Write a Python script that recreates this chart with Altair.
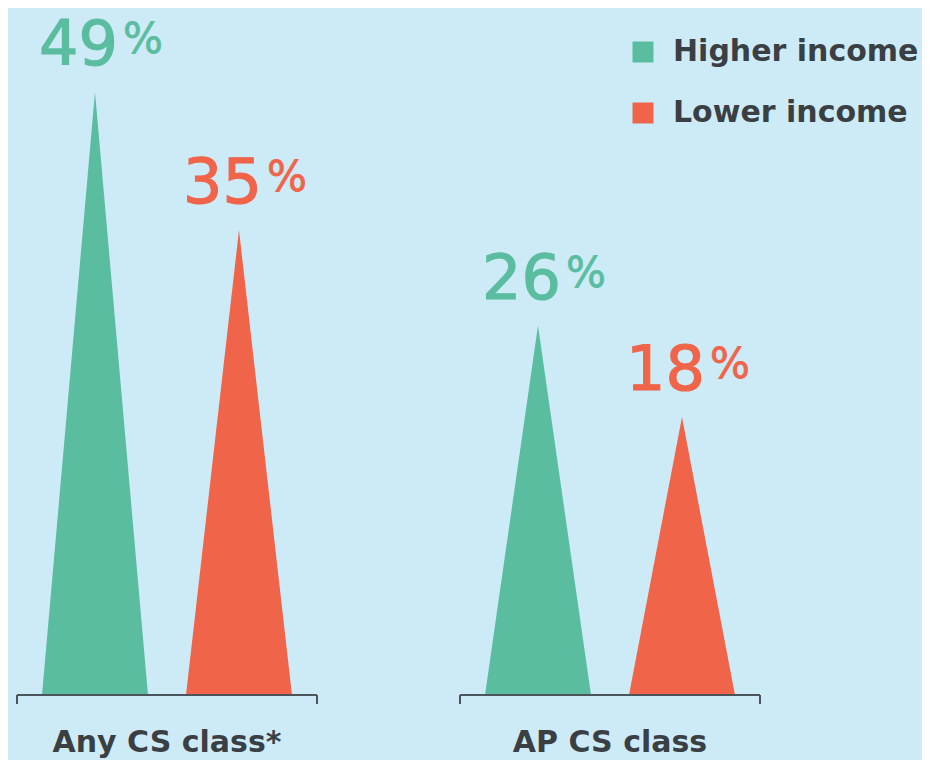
import altair as alt
import pandas as pd

# ---- data ----
groups = ["Any CS class*", "AP CS class"]
series = ["Higher income", "Lower income"]
higher = [49, 26]
lower = [35, 18]
values = [higher, lower]

# ---- layout / style constants ----
BG = "#cdebf7"
GREEN = "#5bbda0"
RED = "#f0644a"
TEXT = "#3a3f44"
AXIS = "#4d555c"
FONT = "DejaVu Sans"

TOTAL_W, TOTAL_H = 914, 752
W, H = TOTAL_W, 687
X0 = 87            # first bar centre (chart px units)
GROUP_STEP = 443
BAR_STEP = 144
HALF = 53
AXIS_HALF = 150

tri_rows, lab_rows, axis_rows, tick_rows, grp_rows = [], [], [], [], []
for g, grp in enumerate(groups):
    mid = X0 + g * GROUP_STEP + BAR_STEP / 2
    axis_rows.append({"group": grp, "x": mid - AXIS_HALF, "x2": mid + AXIS_HALF, "y": 0})
    tick_rows += [{"x": mid - AXIS_HALF}, {"x": mid + AXIS_HALF}]
    grp_rows.append({"group": grp, "x": mid})
    for s, ser in enumerate(series):
        v = values[s][g]
        c = X0 + g * GROUP_STEP + s * BAR_STEP
        bar = f"b{g}{s}"
        tri_rows += [
            {"bar": bar, "series": ser, "x": c - HALF, "y": 0},
            {"bar": bar, "series": ser, "x": c, "y": v},
            {"bar": bar, "series": ser, "x": c + HALF, "y": 0},
        ]
        lab_rows.append({"series": ser, "x": c, "y": v, "num": str(v), "pct": "%"})

tri = pd.DataFrame(tri_rows)
labs = pd.DataFrame(lab_rows)
axes_df = pd.DataFrame(axis_rows)
ticks_df = pd.DataFrame(tick_rows)
grp_df = pd.DataFrame(grp_rows)

xs = alt.Scale(domain=[0, W], range=[0, W])
ys = alt.Scale(type="pow", exponent=0.773, domain=[0, 49], range=[H, 84])
cscale = alt.Scale(domain=series, range=[GREEN, RED])
color = alt.Color(
    "series:N",
    scale=cscale,
    legend=alt.Legend(
        title=None, orient="none", legendX=620, legendY=29,
        symbolType="square", symbolSize=440, symbolStrokeWidth=0, symbolOpacity=1,
        labelFont=FONT, labelFontSize=30, labelFontWeight="bold", labelColor=TEXT,
        labelOffset=15, rowPadding=31, labelLimit=400,
    ),
)

triangles = alt.Chart(tri).mark_area(interpolate="linear", opacity=1).encode(
    x=alt.X("x:Q", scale=xs, axis=None),
    y=alt.Y("y:Q", scale=ys, axis=None, stack=None),
    detail="bar:N",
    color=color,
)

text_color = alt.Color("series:N", scale=cscale, legend=None)
text_stroke = alt.Stroke("series:N", scale=cscale, legend=None)

nums = alt.Chart(labs).mark_text(
    align="right", baseline="alphabetic", font=FONT, fontSize=62, dx=23, dy=-27, strokeWidth=1.2
).encode(x=alt.X("x:Q", scale=xs), y=alt.Y("y:Q", scale=ys), text="num:N",
         color=text_color, stroke=text_stroke)

pcts = alt.Chart(labs).mark_text(
    align="left", baseline="alphabetic", font=FONT, fontSize=42, dx=28, dy=-39, strokeWidth=0.8
).encode(x=alt.X("x:Q", scale=xs), y=alt.Y("y:Q", scale=ys), text="pct:N",
         color=text_color, stroke=text_stroke)

base_rules = alt.Chart(axes_df).mark_rule(color=AXIS, strokeWidth=2).encode(
    x=alt.X("x:Q", scale=xs), x2="x2:Q", y=alt.Y("y:Q", scale=ys)
)

end_ticks = alt.Chart(ticks_df).mark_rule(color=AXIS, strokeWidth=2).encode(
    x=alt.X("x:Q", scale=xs), y=alt.value(H), y2=alt.value(H + 9)
)

grp_labels = alt.Chart(grp_df).mark_text(
    align="center", baseline="alphabetic", font=FONT, fontSize=30, fontWeight="bold", color=TEXT
).encode(x=alt.X("x:Q", scale=xs), y=alt.value(744), text="group:N")

chart = (
    alt.layer(triangles, base_rules, end_ticks, nums, pcts, grp_labels)
    .properties(
        width=W, height=H, background=BG,
        autosize=alt.AutoSizeParams(type="none"),
        padding={"left": 0, "top": 0, "right": 0, "bottom": TOTAL_H - H},
    )
    .configure_view(stroke=None)
)

chart.save("out.html", embed_options={"renderer": "svg", "actions": False})
